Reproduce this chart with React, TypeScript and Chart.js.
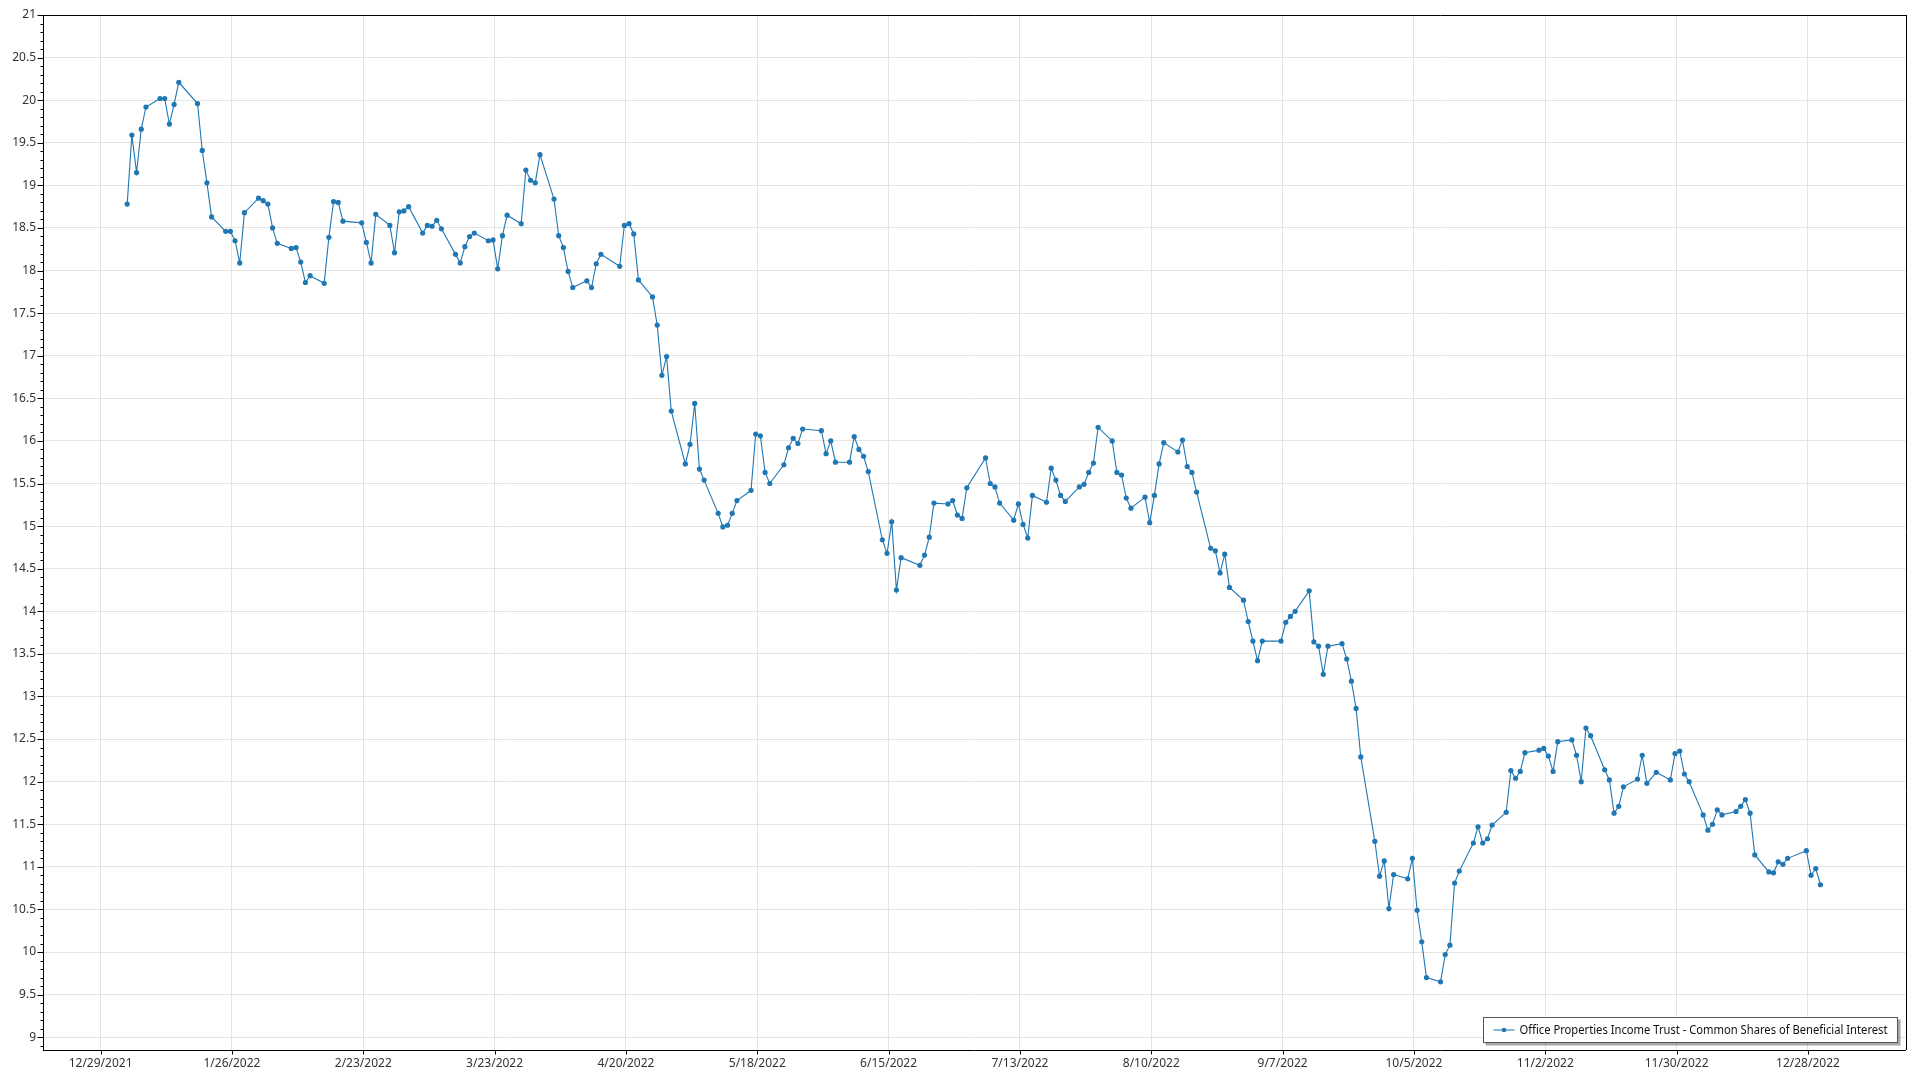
import React, { useEffect, useRef } from "react";
import { Chart, registerables } from "chart.js";

Chart.register(...registerables);

// ---------- DATA ----------
const seriesLabel = "Office Properties Income Trust - Common Shares of Beneficial Interest";

const dates: string[] = [
  // Jan
  "2022-01-03","2022-01-04","2022-01-05","2022-01-06","2022-01-07","2022-01-10","2022-01-11","2022-01-12","2022-01-13","2022-01-14",
  "2022-01-18","2022-01-19","2022-01-20","2022-01-21","2022-01-24","2022-01-25","2022-01-26","2022-01-27","2022-01-28","2022-01-31",
  // Feb
  "2022-02-01","2022-02-02","2022-02-03","2022-02-04","2022-02-07","2022-02-08","2022-02-09","2022-02-10","2022-02-11","2022-02-14",
  "2022-02-15","2022-02-16","2022-02-17","2022-02-18","2022-02-22","2022-02-23","2022-02-24","2022-02-25","2022-02-28",
  // Mar
  "2022-03-01","2022-03-02","2022-03-03","2022-03-04","2022-03-07","2022-03-08","2022-03-09","2022-03-10","2022-03-11","2022-03-14",
  "2022-03-15","2022-03-16","2022-03-17","2022-03-18","2022-03-21","2022-03-22","2022-03-23","2022-03-24","2022-03-25","2022-03-28",
  "2022-03-29","2022-03-30","2022-03-31",
  // Apr
  "2022-04-01","2022-04-04","2022-04-05","2022-04-06","2022-04-07","2022-04-08","2022-04-11","2022-04-12","2022-04-13","2022-04-14",
  "2022-04-18","2022-04-19","2022-04-20","2022-04-21","2022-04-22","2022-04-25","2022-04-26","2022-04-27","2022-04-28","2022-04-29",
  // May
  "2022-05-02","2022-05-03","2022-05-04","2022-05-05","2022-05-06","2022-05-09","2022-05-10","2022-05-11","2022-05-12","2022-05-13",
  "2022-05-16","2022-05-17","2022-05-18","2022-05-19","2022-05-20","2022-05-23","2022-05-24","2022-05-25","2022-05-26","2022-05-27",
  "2022-05-31",
  // Jun
  "2022-06-01","2022-06-02","2022-06-03","2022-06-06","2022-06-07","2022-06-08","2022-06-09","2022-06-10","2022-06-13","2022-06-14",
  "2022-06-15","2022-06-16","2022-06-17","2022-06-21","2022-06-22","2022-06-23","2022-06-24","2022-06-27","2022-06-28","2022-06-29",
  "2022-06-30",
  // Jul
  "2022-07-01","2022-07-05","2022-07-06","2022-07-07","2022-07-08","2022-07-11","2022-07-12","2022-07-13","2022-07-14","2022-07-15",
  "2022-07-18","2022-07-19","2022-07-20","2022-07-21","2022-07-22","2022-07-25","2022-07-26","2022-07-27","2022-07-28","2022-07-29",
  // Aug
  "2022-08-01","2022-08-02","2022-08-03","2022-08-04","2022-08-05","2022-08-08","2022-08-09","2022-08-10","2022-08-11","2022-08-12",
  "2022-08-15","2022-08-16","2022-08-17","2022-08-18","2022-08-19","2022-08-22","2022-08-23","2022-08-24","2022-08-25","2022-08-26",
  "2022-08-29","2022-08-30","2022-08-31",
  // Sep
  "2022-09-01","2022-09-02","2022-09-06","2022-09-07","2022-09-08","2022-09-09","2022-09-12","2022-09-13","2022-09-14","2022-09-15",
  "2022-09-16","2022-09-19","2022-09-20","2022-09-21","2022-09-22","2022-09-23","2022-09-26","2022-09-27","2022-09-28","2022-09-29",
  "2022-09-30",
  // Oct
  "2022-10-03","2022-10-04","2022-10-05","2022-10-06","2022-10-07","2022-10-10","2022-10-11","2022-10-12","2022-10-13","2022-10-14",
  "2022-10-17","2022-10-18","2022-10-19","2022-10-20","2022-10-21","2022-10-24","2022-10-25","2022-10-26","2022-10-27","2022-10-28",
  "2022-10-31",
  // Nov
  "2022-11-01","2022-11-02","2022-11-03","2022-11-04","2022-11-07","2022-11-08","2022-11-09","2022-11-10","2022-11-11","2022-11-14",
  "2022-11-15","2022-11-16","2022-11-17","2022-11-18","2022-11-21","2022-11-22","2022-11-23","2022-11-25","2022-11-28","2022-11-29",
  "2022-11-30",
  // Dec
  "2022-12-01","2022-12-02","2022-12-05","2022-12-06","2022-12-07","2022-12-08","2022-12-09","2022-12-12","2022-12-13","2022-12-14",
  "2022-12-15","2022-12-16","2022-12-19","2022-12-20","2022-12-21","2022-12-22","2022-12-23","2022-12-27","2022-12-28","2022-12-29",
  "2022-12-30",
];

const prices: number[] = [
  // Jan
  18.78, 19.59, 19.15, 19.66, 19.92, 20.02, 20.02, 19.72, 19.95, 20.21,
  19.96, 19.41, 19.03, 18.63, 18.46, 18.46, 18.35, 18.09, 18.68, 18.85,
  // Feb
  18.82, 18.78, 18.50, 18.32, 18.26, 18.27, 18.10, 17.86, 17.94, 17.85,
  18.39, 18.81, 18.80, 18.58, 18.56, 18.33, 18.09, 18.66, 18.53,
  // Mar
  18.21, 18.69, 18.70, 18.75, 18.44, 18.53, 18.52, 18.59, 18.49, 18.19,
  18.09, 18.28, 18.40, 18.44, 18.35, 18.36, 18.02, 18.41, 18.65, 18.55,
  19.18, 19.06, 19.03,
  // Apr
  19.36, 18.84, 18.41, 18.27, 17.99, 17.80, 17.88, 17.80, 18.08, 18.19,
  18.05, 18.53, 18.55, 18.43, 17.89, 17.69, 17.36, 16.77, 16.99, 16.35,
  // May
  15.73, 15.96, 16.44, 15.67, 15.54, 15.15, 14.99, 15.01, 15.15, 15.30,
  15.42, 16.08, 16.06, 15.63, 15.50, 15.72, 15.92, 16.03, 15.97, 16.14,
  16.12,
  // Jun
  15.85, 16.00, 15.75, 15.75, 16.05, 15.90, 15.82, 15.64, 14.84, 14.68,
  15.05, 14.25, 14.63, 14.54, 14.66, 14.87, 15.27, 15.26, 15.30, 15.13,
  15.09,
  // Jul
  15.45, 15.80, 15.50, 15.46, 15.27, 15.07, 15.26, 15.02, 14.86, 15.36,
  15.28, 15.68, 15.54, 15.36, 15.29, 15.46, 15.49, 15.63, 15.74, 16.16,
  // Aug
  16.00, 15.63, 15.60, 15.33, 15.21, 15.34, 15.04, 15.36, 15.73, 15.98,
  15.87, 16.01, 15.70, 15.63, 15.40, 14.74, 14.71, 14.45, 14.67, 14.28,
  14.13, 13.88, 13.65,
  // Sep
  13.42, 13.65, 13.65, 13.87, 13.94, 14.00, 14.24, 13.64, 13.59, 13.26,
  13.59, 13.62, 13.44, 13.18, 12.86, 12.29, 11.30, 10.89, 11.07, 10.51,
  10.91,
  // Oct
  10.86, 11.10, 10.49, 10.12, 9.70, 9.65, 9.97, 10.08, 10.81, 10.95,
  11.28, 11.47, 11.28, 11.33, 11.49, 11.64, 12.13, 12.04, 12.12, 12.34,
  12.37,
  // Nov
  12.39, 12.30, 12.12, 12.47, 12.49, 12.31, 12.00, 12.63, 12.54, 12.14,
  12.02, 11.63, 11.71, 11.94, 12.03, 12.31, 11.98, 12.11, 12.02, 12.33,
  12.36,
  // Dec
  12.09, 12.00, 11.61, 11.43, 11.50, 11.67, 11.61, 11.65, 11.71, 11.79,
  11.63, 11.14, 10.94, 10.93, 11.06, 11.03, 11.10, 11.19, 10.90, 10.98,
  10.79,
];

const xTickLabels: string[] = [
  "12/29/2021", "1/26/2022", "2/23/2022", "3/23/2022", "4/20/2022", "5/18/2022", "6/15/2022",
  "7/13/2022", "8/10/2022", "9/7/2022", "10/5/2022", "11/2/2022", "11/30/2022", "12/28/2022",
];

const yTickValues: number[] = [9, 9.5, 10, 10.5, 11, 11.5, 12, 12.5, 13, 13.5, 14, 14.5, 15, 15.5, 16, 16.5, 17, 17.5, 18, 18.5, 19, 19.5, 20, 20.5, 21];

// ---------- helpers ----------
const ORIGIN = Date.UTC(2021, 11, 29);
const DAY = 86400000;
const CLOSE_OFFSET = 16 / 24; // market close time of day

const isoToDay = (s: string) => {
  const [y, m, d] = s.split("-").map(Number);
  return (Date.UTC(y, m - 1, d) - ORIGIN) / DAY;
};
const mdyToDay = (s: string) => {
  const [m, d, y] = s.split("/").map(Number);
  return (Date.UTC(y, m - 1, d) - ORIGIN) / DAY;
};

const LINE_COLOR = "#1f77b4";
const FONT = "'Noto Sans', 'Open Sans', sans-serif";
const TEXT_COLOR = "#333333";

export default function App() {
  const ref = useRef<HTMLCanvasElement | null>(null);

  useEffect(() => {
    if (!ref.current) return;
    const points = dates.map((d, i) => ({ x: isoToDay(d) + CLOSE_OFFSET, y: prices[i] }));

    const framePlugin = {
      id: "frameAndTicks",
      afterDraw(chart: any) {
        const { ctx, chartArea } = chart;
        const ys = chart.scales.y;
        const xs = chart.scales.x;
        ctx.save();
        ctx.strokeStyle = "#000";
        ctx.lineWidth = 1;
        ctx.beginPath();
        ctx.moveTo(chartArea.left, Math.round(chartArea.top) + 0.5);
        ctx.lineTo(chartArea.right + 1, Math.round(chartArea.top) + 0.5);
        ctx.moveTo(Math.round(chartArea.right) + 0.5, chartArea.top);
        ctx.lineTo(Math.round(chartArea.right) + 0.5, chartArea.bottom);
        ctx.stroke();
        // y ticks major/minor
        ctx.beginPath();
        const left = Math.round(chartArea.left) + 0.5;
        for (let k = Math.ceil(ys.min * 10); k <= Math.floor(ys.max * 10 + 1e-6); k++) {
          const v = k / 10;
          const py = Math.round(ys.getPixelForValue(v)) + 0.5;
          const major = k % 5 === 0;
          ctx.moveTo(left - (major ? 6 : 3), py);
          ctx.lineTo(left, py);
        }
        // x major ticks
        const bottom = Math.round(chartArea.bottom) + 0.5;
        xTickLabels.forEach((l) => {
          const px = Math.round(xs.getPixelForValue(mdyToDay(l))) + 0.5;
          ctx.moveTo(px, bottom);
          ctx.lineTo(px, bottom + 4);
        });
        ctx.stroke();

        // legend box
        const bx = 1483.5, by = 1017.5, bw = 414, bh = 25;
        ctx.fillStyle = "rgba(0,0,0,0.35)";
        ctx.fillRect(bx + 2, by + 2, bw + 1, bh + 1);
        ctx.fillStyle = "#ffffff";
        ctx.fillRect(bx, by, bw, bh);
        ctx.strokeStyle = "#555";
        ctx.strokeRect(bx, by, bw, bh);
        const cy = by + bh / 2;
        ctx.strokeStyle = LINE_COLOR;
        ctx.beginPath();
        ctx.moveTo(bx + 10, cy);
        ctx.lineTo(bx + 31, cy);
        ctx.stroke();
        ctx.fillStyle = LINE_COLOR;
        ctx.beginPath();
        ctx.arc(bx + 20.5, cy, 2.3, 0, Math.PI * 2);
        ctx.fill();
        ctx.fillStyle = "#111";
        ctx.font = `12.5px ${FONT}`;
        ctx.textBaseline = "middle";
        ctx.textAlign = "left";
        const tx = bx + 36;
        const maxW = 368;
        const w = ctx.measureText(seriesLabel).width;
        ctx.translate(tx, cy);
        ctx.scale(maxW / w, 1);
        ctx.fillText(seriesLabel, 0, 0);
        ctx.restore();
      },
    };

    const chart = new Chart(ref.current, {
      type: "line",
      data: {
        datasets: [
          {
            label: seriesLabel,
            data: points,
            borderColor: LINE_COLOR,
            backgroundColor: LINE_COLOR,
            borderWidth: 1.1,
            pointRadius: 2.6,
            pointBorderWidth: 0,
            pointBackgroundColor: LINE_COLOR,
            tension: 0,
            fill: false,
          },
        ],
      },
      options: {
        responsive: false,
        animation: false,
        devicePixelRatio: 1,
        layout: { padding: { left: 0, right: 14.5, top: 15, bottom: 0 } },
        plugins: {
          legend: { display: false },
          tooltip: { enabled: false },
        },
        scales: {
          x: {
            type: "linear",
            min: -12.28,
            max: 384.8,
            afterBuildTicks: (scale: any) => {
              scale.ticks = xTickLabels.map((l) => ({ value: mdyToDay(l) }));
            },
            afterFit: (scale: any) => {
              scale.height = 30;
            },
            ticks: {
              autoSkip: false,
              maxRotation: 0,
              minRotation: 0,
              padding: 6,
              color: TEXT_COLOR,
              font: { family: FONT, size: 12 },
              callback: (_v: any, i: number) => xTickLabels[i],
            },
            grid: { color: "#e4e4e4", drawTicks: false, lineWidth: 1 },
            border: { display: true, color: "#000", width: 1 },
          },
          y: {
            type: "linear",
            min: 8.85,
            max: 21,
            afterBuildTicks: (scale: any) => {
              scale.ticks = yTickValues.map((v) => ({ value: v }));
            },
            afterFit: (scale: any) => {
              scale.width = 43;
            },
            ticks: {
              padding: 7,
              color: TEXT_COLOR,
              font: { family: FONT, size: 12 },
              callback: (v: any) => String(Number(v)),
            },
            grid: { color: "#e4e4e4", drawTicks: false, lineWidth: 1 },
            border: { display: true, color: "#000", width: 1 },
          },
        },
      },
      plugins: [framePlugin],
    } as any);

    return () => chart.destroy();
  }, []);

  return (
    <div style={{ position: "absolute", left: 0, top: 0, width: 1920, height: 1080, background: "#fff" }}>
      <canvas ref={ref} width={1920} height={1080} style={{ display: "block" }} />
    </div>
  );
}
